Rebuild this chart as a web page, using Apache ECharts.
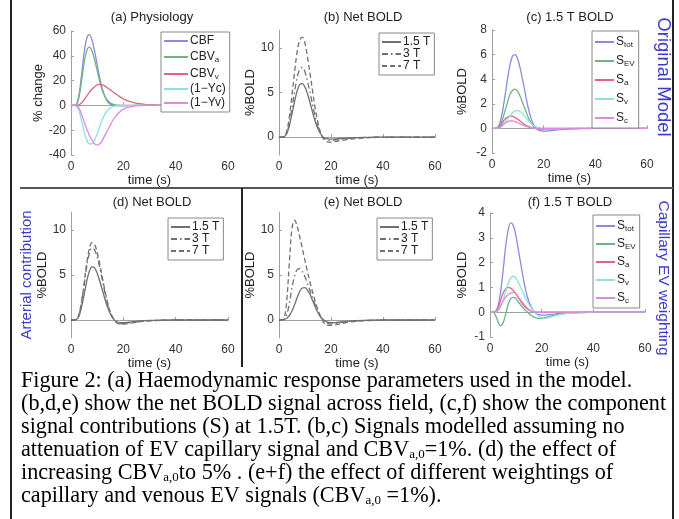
<!DOCTYPE html>
<html><head><meta charset="utf-8">
<script src="https://cdn.jsdelivr.net/npm/echarts@6/dist/echarts.min.js"></script>
<style>html,body{margin:0;padding:0;background:#fff}#c{width:679px;height:519px}</style>
</head><body><div id="c"></div>
<script>
// time samples (s)
const T = [0,1,2,3,4,5,6,7,8,9,10,11,12,13,14,15,16,17,18,19,20,21,22,24,26,28,30,35,40,50,60];

// (a) Physiology (% change)
const aCBF  = [0,0,0.5,8,24,42,54,57,53,44,33,22,13,7,3,1,0.2,0,-0.3,-0.4,-0.4,-0.3,-0.2,-0.1,0,0,0,0,0,0,0];
const aCBVa = [0,0,0.4,6,19,34,44,47,44,37,28,19,12,7,4,2,1,0.5,0.2,0.1,0,0,0,0,0,0,0,0,0,0,0];
const aCBVv = [0,0,0,0.5,2,4.5,7.5,10.5,13,15,16.5,17,16.5,15.5,14,12.5,11,9.5,8,6.5,5.3,4.3,3.5,2.3,1.4,0.9,0.6,0.2,0.05,0,0];
const aYc   = [0,0,-0.3,-4,-12,-21,-28,-31,-31,-28,-23,-17,-11,-7,-4,-2,-1,-0.4,0,0,0,0,0,0,0,0,0,0,0,0,0];
const aYv   = [0,0,-0.2,-2,-7,-13,-19,-24,-28,-31,-32,-31,-28,-24,-20,-16,-12,-9,-6.5,-4.5,-3,-2,-1.3,-0.5,-0.2,0,0,0,0,0,0];

// (b) Net BOLD (%)
const b15 = [0,0,0.05,0.4,1.3,2.6,4.0,5.2,5.9,6.0,5.6,4.8,3.8,2.7,1.7,0.9,0.35,0,-0.15,-0.2,-0.22,-0.22,-0.2,-0.15,-0.1,-0.07,-0.05,-0.02,0,0,0];
const b3  = [0,0,0.06,0.5,1.6,3.3,5.1,6.7,7.6,7.8,7.3,6.2,4.9,3.5,2.2,1.1,0.4,-0.05,-0.25,-0.32,-0.33,-0.32,-0.3,-0.22,-0.15,-0.1,-0.07,-0.03,0,0,0];
const b7  = [0,0,0.08,0.7,2.3,4.7,7.3,9.6,10.9,11.2,10.5,8.9,7.0,5.0,3.1,1.6,0.5,-0.15,-0.45,-0.55,-0.55,-0.52,-0.48,-0.38,-0.28,-0.2,-0.14,-0.06,-0.02,0,0];

// (c) 1.5 T BOLD components (%)
const cTot = [0,0,0.05,0.4,1.3,2.6,4.0,5.2,5.9,6.0,5.6,4.8,3.8,2.7,1.7,0.9,0.35,0,-0.15,-0.2,-0.22,-0.22,-0.2,-0.15,-0.1,-0.07,-0.05,-0.02,0,0,0];
const cEV  = [0,0,0.03,0.2,0.7,1.4,2.1,2.8,3.1,3.2,3.0,2.55,2.0,1.45,0.9,0.5,0.2,0,-0.08,-0.1,-0.1,-0.1,-0.09,-0.07,-0.05,-0.03,-0.02,0,0,0,0];
const cA   = [0,0,0.02,0.15,0.45,0.75,0.93,1.0,0.97,0.88,0.74,0.58,0.42,0.28,0.17,0.09,0.04,0.01,0,0,0,0,0,0,0,0,0,0,0,0,0];
const cV   = [0,0,0,0.05,0.2,0.45,0.75,1.05,1.3,1.43,1.45,1.35,1.15,0.9,0.65,0.42,0.25,0.12,0.03,-0.02,-0.04,-0.05,-0.05,-0.04,-0.03,-0.02,-0.01,0,0,0,0];
const cC   = [0,0,0.01,0.08,0.25,0.42,0.55,0.6,0.6,0.55,0.46,0.36,0.26,0.18,0.11,0.06,0.03,0.01,0,0,0,0,0,0,0,0,0,0,0,0,0];

// (d) Net BOLD, arterial contribution (%)
const d15 = [0,0,0.05,0.4,1.4,2.8,4.3,5.4,5.9,5.8,5.2,4.3,3.3,2.3,1.4,0.7,0.2,-0.1,-0.25,-0.3,-0.3,-0.28,-0.25,-0.18,-0.12,-0.08,-0.05,-0.02,0,0,0];
const d3  = [0,0,0.06,0.55,1.9,3.8,5.9,7.4,8.0,7.8,7.0,5.8,4.4,3.0,1.8,0.85,0.25,-0.15,-0.35,-0.4,-0.4,-0.38,-0.34,-0.26,-0.18,-0.12,-0.08,-0.03,0,0,0];
const d7  = [0,0,0.07,0.6,2.0,4.0,6.3,7.9,8.6,8.4,7.5,6.2,4.7,3.2,1.9,0.9,0.25,-0.2,-0.4,-0.45,-0.45,-0.42,-0.38,-0.3,-0.2,-0.14,-0.09,-0.03,0,0,0];

// (e) Net BOLD, capillary EV weighting (%)
const e15 = [0,0.02,0.08,0.2,0.5,1.0,1.7,2.5,3.2,3.55,3.6,3.3,2.8,2.1,1.4,0.8,0.35,0.05,-0.15,-0.25,-0.3,-0.3,-0.28,-0.22,-0.15,-0.1,-0.07,-0.03,0,0,0];
const e3  = [0,0.02,0.1,0.6,1.9,3.6,4.9,5.6,5.7,5.4,4.8,4.0,3.2,2.4,1.6,0.9,0.35,-0.05,-0.3,-0.4,-0.42,-0.4,-0.37,-0.28,-0.2,-0.13,-0.09,-0.04,0,0,0];
const e7  = [0,0.02,0.2,2.2,6.5,10.2,11.1,10.4,9.2,7.9,6.6,5.3,4.1,3.0,2.0,1.1,0.4,-0.2,-0.5,-0.6,-0.6,-0.57,-0.52,-0.4,-0.3,-0.2,-0.14,-0.06,-0.02,0,0];

// (f) 1.5 T BOLD components, capillary EV weighting (%)
const fTot = [0,0,0.02,0.2,0.75,1.6,2.6,3.3,3.6,3.5,3.1,2.5,1.9,1.3,0.8,0.45,0.2,0.04,-0.06,-0.1,-0.12,-0.12,-0.11,-0.09,-0.06,-0.04,-0.03,-0.01,0,0,0];
const fEV  = [0,0,-0.1,-0.35,-0.55,-0.45,-0.1,0.3,0.55,0.6,0.55,0.42,0.28,0.15,0.05,-0.05,-0.13,-0.2,-0.24,-0.25,-0.24,-0.22,-0.2,-0.15,-0.1,-0.07,-0.05,-0.02,0,0,0];
const fA   = [0,0,0.02,0.15,0.45,0.75,0.93,1.0,0.97,0.88,0.74,0.58,0.42,0.28,0.17,0.09,0.04,0.01,0,0,0,0,0,0,0,0,0,0,0,0,0];
const fV   = [0,0,0,0.05,0.2,0.45,0.8,1.15,1.38,1.45,1.38,1.2,0.98,0.74,0.52,0.33,0.17,0.04,-0.08,-0.17,-0.23,-0.25,-0.24,-0.18,-0.12,-0.08,-0.05,-0.02,0,0,0];
const fC   = [0,0,0.01,0.08,0.25,0.45,0.6,0.7,0.78,0.8,0.75,0.62,0.48,0.34,0.22,0.12,0.05,0.01,0,0,0,0,0,0,0,0,0,0,0,0,0];

const titles = ['(a) Physiology','(b) Net BOLD','(c) 1.5 T BOLD','(d) Net BOLD','(e) Net BOLD','(f) 1.5 T BOLD'];
const yNames = ['% change','%BOLD','%BOLD','%BOLD','%BOLD','%BOLD'];

const C = {blue:'#8a8ae0', green:'#6fb283', red:'#e0677a', cyan:'#8ee0dc', mag:'#dc8ae0', gray:'#707070'};
const FONT = 'Liberation Sans, Arial, sans-serif';
const SERIF = 'Liberation Serif, Times New Roman, serif';

const grids = [
  {left:71, top:31, width:157, height:124},
  {left:279, top:30, width:156, height:125},
  {left:492, top:30, width:155, height:123},
  {left:71, top:212, width:157, height:126},
  {left:279, top:212, width:156, height:126},
  {left:490, top:213, width:155, height:124}
];
const yCfg = [
  {min:-40, max:60, interval:20, gap:24},
  {min:-2, max:12, custom:[0,5,10], gap:17},
  {min:-2, max:8, interval:2, gap:23},
  {min:-2, max:12, custom:[0,5,10], gap:17},
  {min:-2, max:12, custom:[0,5,10], gap:17},
  {min:-1, max:4, interval:1, gap:21}
];

const axisCommon = {
  axisLine:{show:true, lineStyle:{color:'#a0a0a0', width:1}},
  axisTick:{show:true, inside:true, length:3, lineStyle:{color:'#a0a0a0'}},
  splitLine:{show:false},
  axisLabel:{color:'#333', fontSize:12, fontFamily:FONT, margin:5},
  nameTextStyle:{color:'#222', fontSize:13, fontFamily:FONT}
};

const xAxes = grids.map((g,i)=>Object.assign({}, axisCommon, {
  gridIndex:i, type:'value', min:0, max:60, interval:20,
  name:'time (s)', nameLocation:'middle', nameGap:18,
  axisLabel:Object.assign({}, axisCommon.axisLabel, {margin:6})
}));
const yAxes = yCfg.map((c,i)=>{
  const ax = Object.assign({}, axisCommon, {
    gridIndex:i, type:'value', min:c.min, max:c.max,
    name:yNames[i], nameLocation:'middle', nameRotate:90, nameGap:c.gap
  });
  if (c.interval) ax.interval = c.interval;
  if (c.custom) {
    ax.axisLabel = Object.assign({}, axisCommon.axisLabel, {customValues:c.custom});
    ax.axisTick = Object.assign({}, axisCommon.axisTick, {customValues:c.custom});
  }
  return ax;
});

function mk(name, gi, vals, color, type){
  return {
    name, type:'line', xAxisIndex:gi, yAxisIndex:gi, symbol:'none', smooth:0.35,
    lineStyle:{color, width:1.3, type: type||'solid'}, itemStyle:{color},
    data: T.map((t,k)=>[t, vals[k]]), z:3
  };
}
const dashDot = [6,3,1.5,3];
const dashed = [5,3];
const series = [
  mk('a_CBF',0,aCBF,C.blue), mk('a_CBVa',0,aCBVa,C.green), mk('a_CBVv',0,aCBVv,C.red),
  mk('a_Yc',0,aYc,C.cyan), mk('a_Yv',0,aYv,C.mag),
  mk('b_15',1,b15,C.gray), mk('b_3',1,b3,C.gray,dashDot), mk('b_7',1,b7,C.gray,dashed),
  mk('c_tot',2,cTot,C.blue), mk('c_EV',2,cEV,C.green), mk('c_a',2,cA,C.red), mk('c_v',2,cV,C.cyan), mk('c_c',2,cC,C.mag),
  mk('d_15',3,d15,C.gray), mk('d_3',3,d3,C.gray,dashDot), mk('d_7',3,d7,C.gray,dashed),
  mk('e_15',4,e15,C.gray), mk('e_3',4,e3,C.gray,dashDot), mk('e_7',4,e7,C.gray,dashed),
  mk('f_tot',5,fTot,C.blue), mk('f_EV',5,fEV,C.green), mk('f_a',5,fA,C.red), mk('f_v',5,fV,C.cyan), mk('f_c',5,fC,C.mag)
];

const labelMap = {
  a_CBF:'{m|CBF}', a_CBVa:'{m|CBV}{s|a}', a_CBVv:'{m|CBV}{s|v}', a_Yc:'{m|(1\u2212Yc)}', a_Yv:'{m|(1\u2212Yv)}',
  c_tot:'{m|S}{s|tot}', c_EV:'{m|S}{s|EV}', c_a:'{m|S}{s|a}', c_v:'{m|S}{s|v}', c_c:'{m|S}{s|c}',
  f_tot:'{m|S}{s|tot}', f_EV:'{m|S}{s|EV}', f_a:'{m|S}{s|a}', f_v:'{m|S}{s|v}', f_c:'{m|S}{s|c}'
};
['b','d','e'].forEach(p=>{ labelMap[p+'_15']='{m|1.5 T}'; labelMap[p+'_3']='{m|3 T}'; labelMap[p+'_7']='{m|7 T}'; });

const richTxt = {
  m:{fontSize:12, fontFamily:FONT, color:'#222', lineHeight:14},
  s:{fontSize:8, fontFamily:FONT, color:'#222', verticalAlign:'bottom', padding:[7,0,0,0], lineHeight:14}
};
function legend(data, left, top, gap, iw){
  return {
    data, left, top, orient:'vertical', itemWidth:iw, itemHeight:8, itemGap:gap,
    padding:[3,4,3,2], borderColor:'#888', borderWidth:1, backgroundColor:'#fff',
    selectedMode:false, itemStyle:{opacity:0},
    formatter: n=>labelMap[n], textStyle:{rich:richTxt, padding:[0,0,0,-3]}
  };
}
const legends = [
  legend(['a_CBF','a_CBVa','a_CBVv','a_Yc','a_Yv'], 161, 32, 2, 24),
  legend(['b_15','b_3','b_7'], 379, 33, 0, 19),
  legend(['c_tot','c_EV','c_a','c_v','c_c'], 592, 31, 4, 19),
  legend(['d_15','d_3','d_7'], 168, 218, 0, 19),
  legend(['e_15','e_3','e_7'], 377, 218, 0, 19),
  legend(['f_tot','f_EV','f_a','f_v','f_c'], 593, 215, 3, 19)
];

const titleCenters = [[147,15],[358,15],[565,15],[147,200],[358,200],[565,200]];
const titleObjs = titles.map((t,i)=>({
  text:t, left:titleCenters[i][0], top:titleCenters[i][1]-9, textAlign:'center',
  textStyle:{fontSize:13, fontWeight:'normal', color:'#222', fontFamily:FONT}
}));

// caption
const capRich = {
  n:{fontSize:22.2, fontFamily:SERIF, color:'#000', lineHeight:23},
  sb:{fontSize:13, fontFamily:SERIF, color:'#000', verticalAlign:'bottom', padding:[9,0,0,0], lineHeight:23}
};
const capLines = [
  '{n|Figure 2: (a) Haemodynamic response parameters used in the model.}',
  '{n|(b,d,e) show the net BOLD signal across field, (c,f) show the component}',
  '{n|signal contributions (S) at 1.5T. (b,c) Signals modelled assuming no}',
  '{n|attenuation of EV capillary signal and CBV}{sb|a,0}{n|=1%. (d) the effect of}',
  '{n|increasing CBV}{sb|a,0}{n|to 5% . (e+f) the effect of different weightings of}',
  '{n|capillary and venous EV signals (CBV}{sb|a,0}{n| =1%).}'
];
const capY0 = 381, capDY = 23;
const graphics = [
  {type:'line', shape:{x1:11,y1:0,x2:11,y2:519}, style:{stroke:'#222', lineWidth:2}},
  {type:'line', shape:{x1:673,y1:0,x2:673,y2:519}, style:{stroke:'#222', lineWidth:2}},
  {type:'line', shape:{x1:20,y1:188,x2:673,y2:188}, style:{stroke:'#555', lineWidth:2}},
  {type:'line', shape:{x1:242,y1:188,x2:242,y2:367}, style:{stroke:'#222', lineWidth:2}},
  {type:'text', x:663, y:77, rotation:-Math.PI/2, style:{text:'Original Model', fill:'#3a3ad0', font:'18.5px '+FONT, textAlign:'center', textVerticalAlign:'middle'}},
  {type:'text', x:663, y:278, rotation:-Math.PI/2, style:{text:'Capillary EV weighting', fill:'#3a3ad0', font:'15.5px '+FONT, textAlign:'center', textVerticalAlign:'middle'}},
  {type:'text', x:27, y:275, rotation:Math.PI/2, style:{text:'Arterial contribution', fill:'#3a3ad0', font:'15px '+FONT, textAlign:'center', textVerticalAlign:'middle'}}
];
capLines.forEach((l,i)=>graphics.push({type:'text', x:21, y:capY0+i*capDY,
  style:{text:l, rich:capRich, textVerticalAlign:'middle', textAlign:'left'}}));

const chart = echarts.init(document.getElementById('c'), null, {renderer:'canvas'});
chart.setOption({
  animation:false, backgroundColor:'#fff',
  title:titleObjs, grid:grids, xAxis:xAxes, yAxis:yAxes, legend:legends, series, graphic:graphics
});
</script></body></html>
